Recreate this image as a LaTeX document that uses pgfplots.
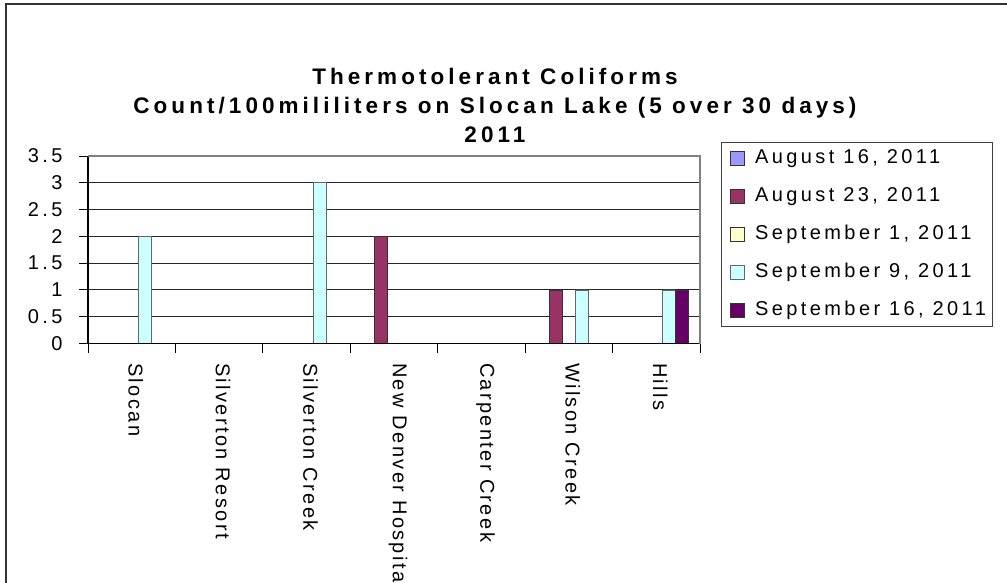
\documentclass[border=0pt]{standalone}
\usepackage{fontspec}
\setmainfont{Liberation Sans}
\newfontfamily\tickfam[LetterSpace=17]{Liberation Sans}
\newfontfamily\xlabfam[LetterSpace=12]{Liberation Sans}
\newfontfamily\titlefam[LetterSpace=18]{Liberation Sans}
\usepackage{pgfplots}
\pgfplotsset{compat=1.18}
\newcommand\tickfont{\tickfam\fontsize{20}{24}\selectfont}
\newcommand\xlabfont{\xlabfam\fontsize{20}{24}\selectfont}
\newcommand\titlefont{\titlefam\bfseries\fontsize{22.5}{29}\selectfont}
\definecolor{cA}{HTML}{9999FF}
\definecolor{cB}{HTML}{993366}
\definecolor{cC}{HTML}{FFFFCC}
\definecolor{cD}{HTML}{CCFFFF}
\definecolor{cE}{HTML}{660066}
\begin{document}
\begin{tikzpicture}
\path[use as bounding box] (0pt,0pt) rectangle (1007pt,-583pt);
\draw[line width=2pt, black!80] (6pt,-583pt) -- (6pt,-4.5pt) -- (1007pt,-4.5pt);
\begin{axis}[
  at={(88pt,-343.5pt)}, anchor=south west,
  width=612pt, height=187.5pt, scale only axis,
  xmin=-0.5, xmax=6.5, ymin=0, ymax=3.5,
  ybar=0pt, bar width=13pt,
  xtick={-0.5,0.5,...,6.5},
  x tick label as interval,
  xticklabels={Slocan,Silverton Resort,Silverton Creek,New Denver Hospita,Carpenter Creek,Wilson Creek,Hills},
  ytick={0,0.5,...,3.5},
  /pgf/number format/assume math mode=true,
  yticklabel style={font=\tickfont, anchor=east},
  xticklabel style={font=\xlabfont, rotate=-90, anchor=west, yshift=4pt},
  xticklabel shift=7pt,
  yticklabel shift=13pt,
  tick pos=left,
  tick align=outside, major tick length=9pt,
  tick style={black, line width=1pt},
  ymajorgrids, grid style={black!85, line width=1pt},
  axis line style={draw=none},
  title={Thermotolerant Coliforms\\Count/100mililiters on Slocan Lake (5 over 30 days)\\2011},
  title style={font=\titlefont, align=center, at={(axis description cs:0.665,1.24)}, anchor=center},
  legend style={at={(axis description cs:1.0338,1.0763)}, anchor=north west,
    draw=black!75, line width=1pt, font=\tickfont, inner sep=5pt,
    row sep=16pt,
    nodes={anchor=west, inner sep=2pt, text height=14pt, text depth=4pt}},
  legend cell align=left,
  legend image code/.code={\path[draw=none,fill=none] (0pt,0pt) -- (27pt,0pt);\draw[#1, line width=0.8pt] (4pt,-7pt) rectangle (18pt,7pt);},
  after end axis/.code={
    \draw[black, line width=1.2pt] (rel axis cs:0,1) -- (rel axis cs:0,0) -- (rel axis cs:1,0);
    \draw[black!50, line width=1.2pt] (rel axis cs:0,1) -- (rel axis cs:1,1) -- (rel axis cs:1,0);
  },
]
\addplot[fill=cA, draw=black!80, line width=0.8pt] coordinates {(0,0) (1,0) (2,0) (3,0) (4,0) (5,0) (6,0)};
\addplot[fill=cB, draw=black!80, line width=0.8pt] coordinates {(0,0) (1,0) (2,0) (3,2) (4,0) (5,1) (6,0)};
\addplot[fill=cC, draw=black!80, line width=0.8pt] coordinates {(0,0) (1,0) (2,0) (3,0) (4,0) (5,0) (6,0)};
\addplot[fill=cD, draw=black!60, line width=0.8pt] coordinates {(0,2) (1,0) (2,3) (3,0) (4,0) (5,1) (6,1)};
\addplot[fill=cE, draw=black!80, line width=0.8pt] coordinates {(0,0) (1,0) (2,0) (3,0) (4,0) (5,0) (6,1)};
\legend{{August 16, 2011},{August 23, 2011},{September 1, 2011},{September 9, 2011},{September 16, 2011}}
\end{axis}
\end{tikzpicture}
\end{document}
